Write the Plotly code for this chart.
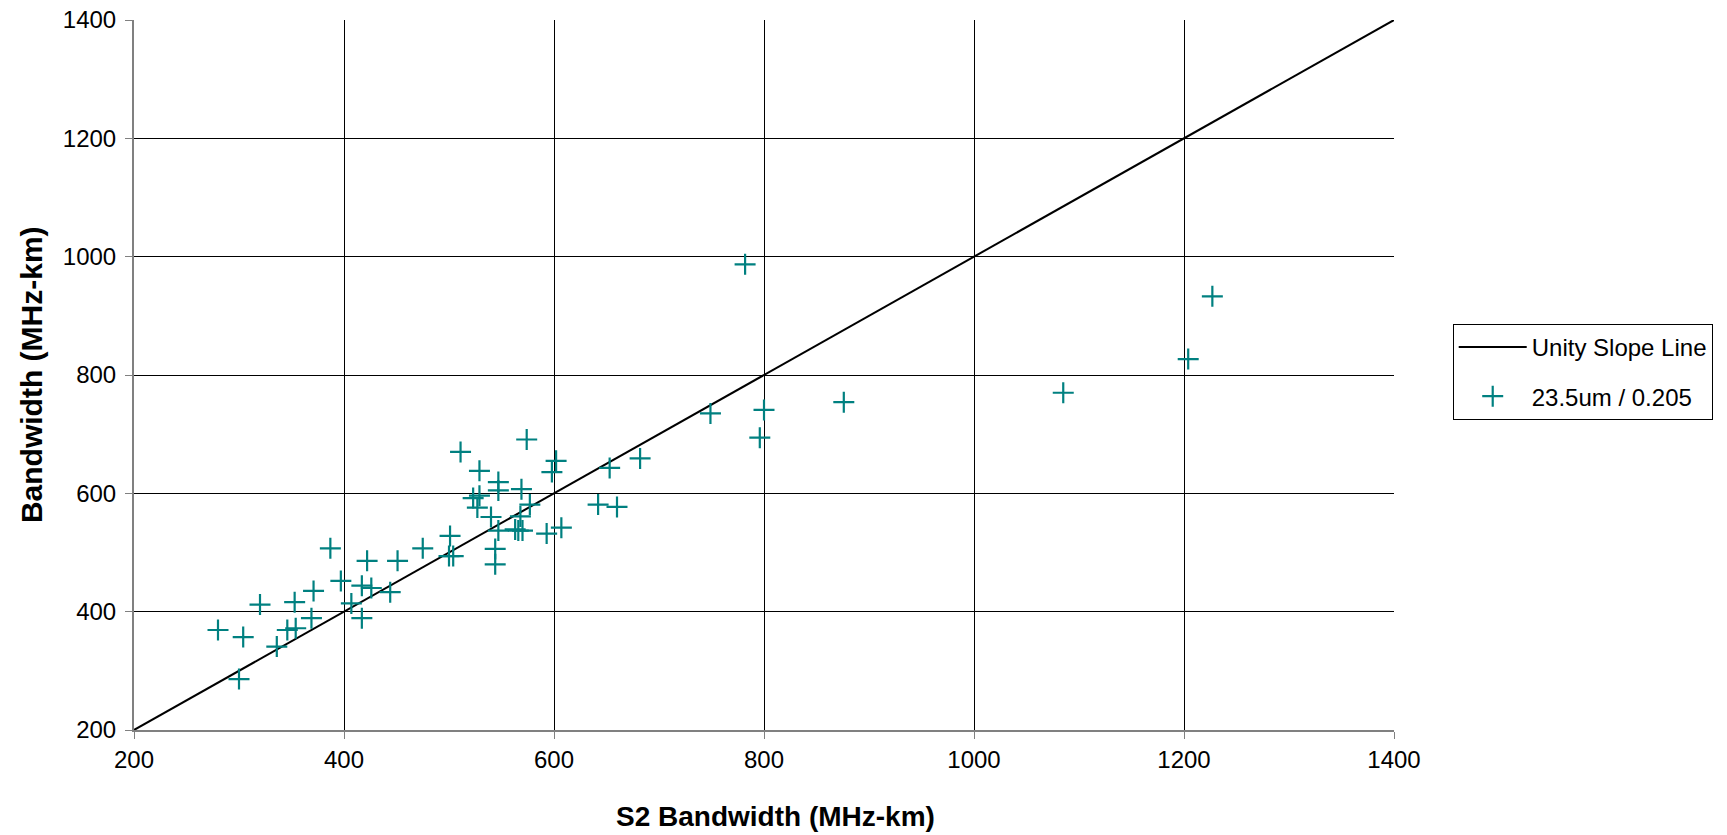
import plotly.graph_objects as go

# Data
s2_bandwidth = [280, 300, 304, 320, 336, 346, 353, 354, 369, 371, 387, 397, 407, 417, 417,
                422, 426, 444, 451, 475, 500, 501, 504, 511, 523, 527, 529, 529, 540, 544,
                544, 547, 547, 547, 563, 566, 568, 569, 570, 574, 577, 593, 598, 602, 607,
                642, 653, 660, 682, 749, 782, 796, 800, 876, 1085, 1204, 1227]
bandwidth = [369, 286, 357, 412, 341, 369, 416, 372, 389, 435, 507, 452, 414, 389, 444,
             486, 440, 433, 486, 507, 494, 528, 494, 670, 592, 576, 638, 596, 560, 506,
             480, 619, 605, 537, 539, 537, 561, 607, 537, 691, 581, 532, 636, 655, 542,
             581, 643, 577, 659, 735, 987, 694, 741, 754, 770, 827, 933]
unity_x = [200, 1400]
unity_y = [200, 1400]
tick_vals = [200, 400, 600, 800, 1000, 1200, 1400]

FONT = "Liberation Sans, Arial, sans-serif"

fig = go.Figure()
fig.add_trace(go.Scatter(
    x=unity_x, y=unity_y, mode="lines", name="Unity Slope Line",
    line=dict(color="black", width=2), legendgroup="a"))
fig.add_trace(go.Scatter(
    x=s2_bandwidth, y=bandwidth, mode="markers", name="23.5um / 0.205",
    marker=dict(symbol="cross-thin-open", size=15, color="#008080",
                line=dict(color="#008080", width=2.2)),
    legendgroup="b"))

axis_common = dict(
    range=[200, 1400], tickvals=tick_vals, showgrid=True, gridcolor="black",
    gridwidth=1, zeroline=False, showline=True, linecolor="#808080", linewidth=2,
    ticks="outside", ticklen=7, tickcolor="#808080", tickwidth=1, automargin=False,
    tickfont=dict(family=FONT, size=24, color="black"),
)
fig.update_xaxes(**axis_common)
fig.update_yaxes(**axis_common, ticklabelstandoff=4)

fig.update_layout(
    width=1727, height=835,
    margin=dict(l=134, r=333, t=20, b=105, autoexpand=False),
    paper_bgcolor="white", plot_bgcolor="white",
    font=dict(family=FONT, color="black"),
    showlegend=True,
    legend=dict(x=1.0466, y=0.572, xanchor="left", yanchor="top",
                bordercolor="black", borderwidth=1, bgcolor="white",
                font=dict(family=FONT, size=24, color="black"),
                tracegroupgap=15, itemwidth=68),
    annotations=[
        dict(text="<b>S2 Bandwidth (MHz-km)</b>", xref="paper", yref="paper",
             x=0.6373, y=-0.1225, xanchor="right", yanchor="middle",
             showarrow=False, font=dict(family=FONT, size=28, color="black")),
        dict(text="<b>Bandwidth (MHz-km)</b>", xref="paper", yref="paper",
             x=-0.0817, y=0.5, xanchor="center", yanchor="middle", textangle=-90,
             showarrow=False, font=dict(family=FONT, size=30, color="black")),
    ],
)

fig.write_html("out.html", config={"displayModeBar": False},
               post_script="document.body.style.margin='0';")
